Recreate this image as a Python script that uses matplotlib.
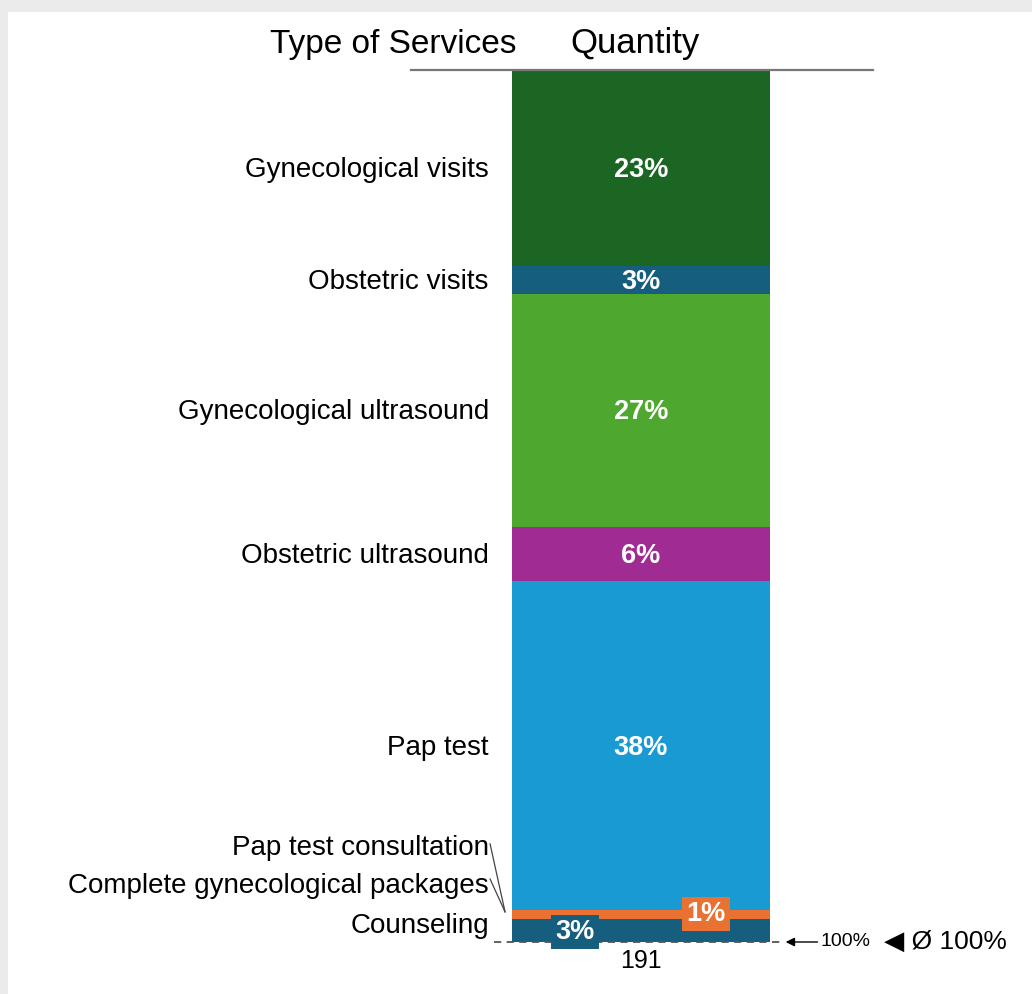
import numpy as np
import matplotlib.pyplot as plt
from matplotlib.patches import Rectangle

plt.rcParams['font.family'] = ['Liberation Sans', 'DejaVu Sans']

# data, bottom segment first
services = ["Counseling", "Complete gynecological packages", "Pap test consultation",
            "Pap test", "Obstetric ultrasound", "Gynecological ultrasound",
            "Obstetric visits", "Gynecological visits"]
counts = [5, 2, 0, 72, 12, 51, 6, 43]
colors = ["#165E7E", "#E97132", "#196B24", "#1A9AD3", "#A02B93",
          "#4EA72E", "#165E7E", "#1B6623"]
total = sum(counts)

W, H = 1032, 994
fig = plt.figure(figsize=(W / 100, H / 100), dpi=100)
fig.patch.set_facecolor("#ebebeb")

# white panel behind everything
bg = fig.add_axes([0, 0, 1, 1], zorder=-10)
bg.set_xlim(0, 1)
bg.set_ylim(0, 1)
bg.axis("off")
bg.add_patch(Rectangle((8 / W, 0), 1, 1 - 12 / H, facecolor="white", edgecolor="none"))

# axes placed so the bar spans px 512..770 horizontally, 70..942 vertically
bar_c, bar_w = 641, 258
ax = fig.add_axes([0, (H - 942) / H, 1, 872 / H])
ax.set_xlim(-bar_c / bar_w, (W - bar_c) / bar_w)
ax.set_ylim(0, total)
ax.axis("off")
ax.patch.set_alpha(0)

bottoms = np.concatenate([[0], np.cumsum(counts)[:-1]])
ax.bar(0, counts, width=1, bottom=bottoms, color=colors, edgecolor="none")

FS = 20
PFS = 19.5
lab_x = -0.59
for i, (name, c, b) in enumerate(zip(services, counts, bottoms)):
    mid = b + c / 2
    pct = f"{round(c / total * 100)}%"
    if i >= 3:
        ax.text(lab_x, mid - 0.4, name, ha="right", va="center", fontsize=FS)
        ax.text(0, mid - 0.4, pct, ha="center", va="center", fontsize=PFS,
                color="white", fontweight="bold")

# small segments at the bottom: labels stacked with leader lines
small_y = [3.5, 12.3, 20.6]  # in count units for the three small labels
for i in range(3):
    ax.text(lab_x, small_y[i], services[i], ha="right", va="center", fontsize=FS)
ax.plot([-0.585, -0.527], [21.5, 6.6], color="#444444", lw=0.9, clip_on=False)
ax.plot([-0.585, -0.527], [13.8, 6.6], color="#444444", lw=0.9, clip_on=False)

# boxed labels for counseling and packages
ax.text(-0.256, 2.2, f"{round(counts[0] / total * 100)}%",
        ha="center", va="center", fontsize=PFS, color="white", fontweight="bold",
        bbox=dict(boxstyle="square,pad=0.15", facecolor=colors[0], edgecolor="none"))
ax.text(0.252, 6.1, f"{round(counts[1] / total * 100)}%",
        ha="center", va="center", fontsize=PFS, color="white", fontweight="bold",
        bbox=dict(boxstyle="square,pad=0.15", facecolor=colors[1], edgecolor="none"))

# baseline dashed line and total
ax.plot([-0.57, 0.54], [0, 0], color="#555555", lw=1.3, ls=(0, (4, 3)), clip_on=False)
ax.text(0, -1.6, f"{total}", ha="center", va="top", fontsize=18)
ax.annotate("", xy=(0.55, 0), xytext=(0.695, 0),
            arrowprops=dict(arrowstyle="-|>", color="black", lw=1, mutation_scale=13),
            annotation_clip=False)
ax.text(0.695, 0, "100%", ha="left", va="center", fontsize=14)
ax.text(0.94, 0, "◀ Ø 100%", ha="left", va="center", fontsize=19)

# header
ax.plot([-0.89, 0.9], [total, total], color="#777777", lw=1.6, clip_on=False)
fig.text(270 / W, 1 - 44 / H, "Type of Services", ha="left", va="center", fontsize=24)
fig.text(570 / W, 1 - 44 / H, "Quantity", ha="left", va="center", fontsize=25)

fig.savefig("out.png", dpi=100, facecolor=fig.get_facecolor())
